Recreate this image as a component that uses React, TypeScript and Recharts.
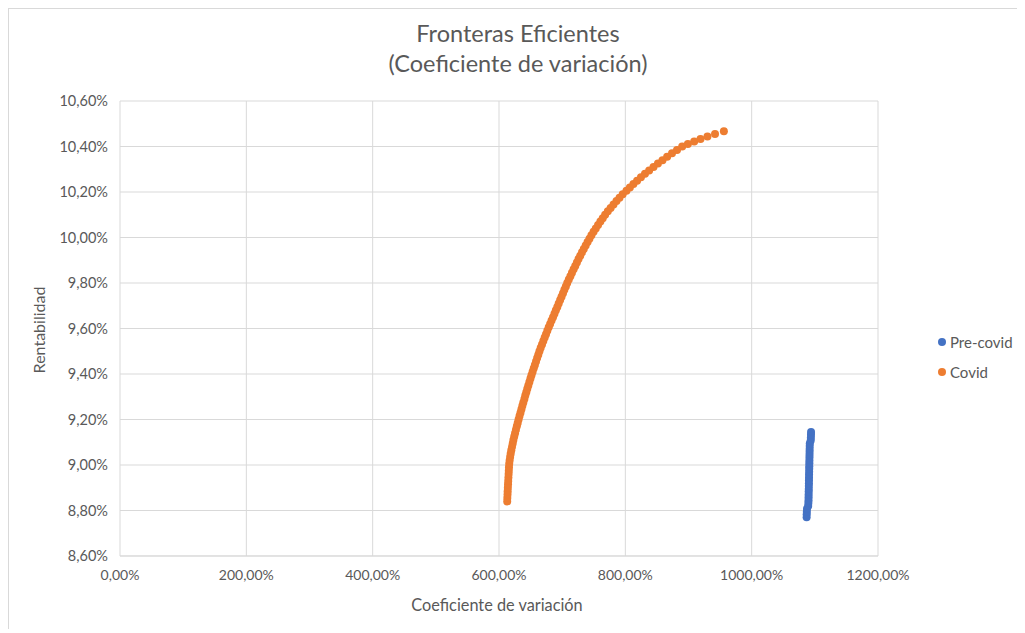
import React from 'react';
import { ScatterChart, Scatter, XAxis, YAxis, CartesianGrid } from 'recharts';

// Coeficiente de variación (%) and rentabilidad (%) for each frontier
const preCovidCV = [
  1087.0, 1087.1, 1087.3, 1087.6, 1089.5, 1089.8, 1090.0, 1090.1, 1090.2, 1090.3,
  1090.4, 1090.5, 1090.6, 1090.7, 1090.8, 1090.9, 1091.0, 1091.1, 1091.2, 1091.3,
  1091.4, 1091.5, 1091.6, 1091.7, 1091.8, 1091.9, 1092.0, 1093.5, 1093.7, 1093.9,
  1094.0,
];
const preCovidRet = [
  8.770, 8.783, 8.795, 8.808, 8.820, 8.833, 8.845, 8.858, 8.870, 8.883,
  8.895, 8.908, 8.920, 8.933, 8.945, 8.958, 8.970, 8.983, 8.995, 9.008,
  9.020, 9.033, 9.045, 9.058, 9.070, 9.083, 9.095, 9.108, 9.120, 9.133,
  9.145,
];

const covidCV = [
  613.0, 613.2, 613.5, 613.7, 614.0, 614.3, 614.6, 614.9, 615.2, 615.5,
  615.8, 616.2, 616.8, 617.6, 618.5, 619.5, 620.6, 621.7, 622.8, 624.1,
  625.4, 626.8, 628.2, 629.6, 631.0, 632.5, 634.0, 635.5, 637.0, 638.5,
  640.2, 641.6, 643.2, 644.8, 646.4, 648.1, 649.8, 651.4, 653.2, 655.0,
  656.8, 658.6, 660.4, 662.2, 664.0, 666.0, 668.1, 670.2, 672.3, 674.4,
  676.5, 678.7, 680.9, 683.2, 685.5, 687.8, 690.0, 692.3, 694.5, 696.8,
  699.0, 701.3, 703.5, 705.8, 708.0, 710.5, 713.0, 715.5, 718.1, 720.7,
  723.3, 725.9, 728.6, 731.4, 734.2, 737.2, 740.2, 743.2, 746.3, 749.7,
  753.2, 756.8, 760.5, 764.2, 768.0, 772.3, 776.7, 781.3, 786.0, 790.8,
  795.8, 801.8, 807.2, 812.8, 818.6, 824.7, 831.1, 837.7, 844.6, 851.6,
  858.8, 866.2, 873.9, 881.8, 890.0, 899.0, 909.0, 919.0, 930.0, 942.0,
  956.0,
];
const covidRet = [
  8.840, 8.855, 8.870, 8.885, 8.900, 8.915, 8.930, 8.945, 8.960, 8.975,
  8.990, 9.005, 9.020, 9.035, 9.050, 9.065, 9.080, 9.095, 9.110, 9.125,
  9.140, 9.155, 9.170, 9.185, 9.200, 9.215, 9.230, 9.245, 9.260, 9.275,
  9.290, 9.305, 9.320, 9.335, 9.350, 9.365, 9.380, 9.395, 9.410, 9.425,
  9.440, 9.455, 9.470, 9.485, 9.500, 9.515, 9.530, 9.545, 9.560, 9.575,
  9.590, 9.605, 9.620, 9.635, 9.650, 9.665, 9.680, 9.695, 9.710, 9.725,
  9.740, 9.755, 9.770, 9.785, 9.800, 9.815, 9.830, 9.845, 9.860, 9.875,
  9.890, 9.905, 9.920, 9.935, 9.950, 9.965, 9.980, 9.995, 10.010, 10.025,
  10.040, 10.055, 10.070, 10.085, 10.100, 10.115, 10.130, 10.145, 10.160, 10.175,
  10.190, 10.205, 10.220, 10.235, 10.250, 10.265, 10.280, 10.295, 10.310, 10.325,
  10.340, 10.355, 10.370, 10.385, 10.400, 10.411, 10.422, 10.433, 10.444, 10.455,
  10.467,
];

const xTicks = [0, 200, 400, 600, 800, 1000, 1200];
const yTicks = [8.6, 8.8, 9.0, 9.2, 9.4, 9.6, 9.8, 10.0, 10.2, 10.4, 10.6];

const seriesNames = ['Pre-covid', 'Covid'];
const seriesColors = ['#4472C4', '#ED7D31'];

const toPoints = (xs: number[], ys: number[]) => xs.map((x, i) => ({ cv: x, ret: ys[i] }));

const preCovidData = toPoints(preCovidCV, preCovidRet);
const covidData = toPoints(covidCV, covidRet);

const pct = (v: number) => v.toFixed(2).replace('.', ',') + '%';

const FONT = 'Lato, "Open Sans", sans-serif';
const TEXT = '#595959';
const GRID = '#d9d9d9';

const Dot = (props: any) => {
  const { cx, cy, fill } = props;
  if (cx == null || cy == null) return null;
  return <circle cx={cx} cy={cy} r={4} fill={fill} />;
};

export default function App() {
  return (
    <div
      style={{
        position: 'relative',
        width: 1016,
        height: 620,
        borderLeft: `1px solid ${GRID}`,
        borderTop: `1px solid ${GRID}`,
        fontFamily: FONT,
        color: TEXT,
        background: '#fff',
      }}
    >
      <div
        style={{
          position: 'absolute',
          top: 9,
          left: 0,
          width: 1018,
          textAlign: 'center',
          fontSize: 23.5,
          lineHeight: '30px',
        }}
      >
        <div>Fronteras Eficientes</div>
        <div>(Coeficiente de variación)</div>
      </div>

      <ScatterChart width={1016} height={620} margin={{ top: 92, right: 147, bottom: 43, left: 51 }}>
        <CartesianGrid stroke={GRID} strokeWidth={1} />
        <XAxis
          type="number"
          dataKey="cv"
          domain={[0, 1200]}
          ticks={xTicks}
          tickFormatter={pct}
          tickLine={false}
          tickSize={0}
          tickMargin={14}
          axisLine={{ stroke: GRID }}
          tick={{ fill: TEXT, fontSize: 14, fontFamily: FONT }}
          height={30}
          interval={0}
        />
        <YAxis
          type="number"
          dataKey="ret"
          domain={[8.6, 10.6]}
          ticks={yTicks}
          tickFormatter={pct}
          tickLine={false}
          tickSize={0}
          tickMargin={12}
          axisLine={false}
          tick={{ fill: TEXT, fontSize: 14.5, fontFamily: FONT }}
          width={60}
          interval={0}
        />
        <Scatter
          name={seriesNames[0]}
          data={preCovidData}
          fill={seriesColors[0]}
          shape={Dot}
          isAnimationActive={false}
        />
        <Scatter
          name={seriesNames[1]}
          data={covidData}
          fill={seriesColors[1]}
          shape={Dot}
          isAnimationActive={false}
        />
      </ScatterChart>

      <div
        style={{
          position: 'absolute',
          left: 488 - 150,
          top: 596 - 11,
          width: 300,
          textAlign: 'center',
          fontSize: 16.3,
          lineHeight: '22px',
        }}
      >
        Coeficiente de variación
      </div>

      <div
        style={{
          position: 'absolute',
          left: 30 - 100,
          top: 321 - 11,
          width: 200,
          textAlign: 'center',
          fontSize: 16,
          lineHeight: '22px',
          transform: 'rotate(-90deg)',
        }}
      >
        Rentabilidad
      </div>

      {seriesNames.map((name, i) => (
        <div
          key={name}
          style={{
            position: 'absolute',
            left: 929,
            top: 323 + i * 30,
            height: 20,
            display: 'flex',
            alignItems: 'center',
            fontSize: 15,
          }}
        >
          <svg width={8} height={8} style={{ marginRight: 4 }}>
            <circle cx={4} cy={4} r={4} fill={seriesColors[i]} />
          </svg>
          <span>{name}</span>
        </div>
      ))}
    </div>
  );
}
